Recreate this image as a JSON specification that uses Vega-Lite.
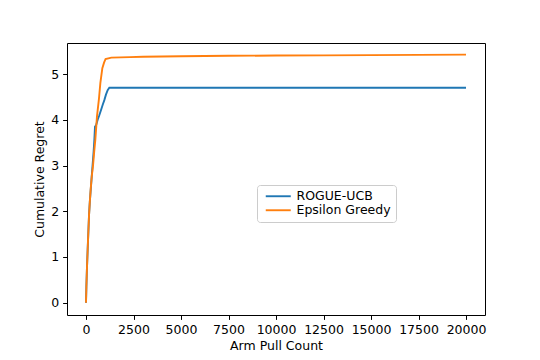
{
  "$schema": "https://vega.github.io/schema/vega-lite/v6.json",
  "width": 418,
  "height": 272,
  "autosize": {"type": "none"},
  "padding": {"left": 67, "top": 43, "right": 55, "bottom": 45},
  "background": "white",
  "config": {
    "font": "DejaVu Sans",
    "view": {"stroke": "black", "strokeWidth": 1},
    "axis": {
      "domain": false,
      "grid": false,
      "tickColor": "black",
      "tickSize": 4.4,
      "tickWidth": 1,
      "labelPadding": 4,
      "labelFont": "DejaVu Sans",
      "labelFontSize": 12.5,
      "labelColor": "black",
      "titleFont": "DejaVu Sans",
      "titleFontSize": 12.5,
      "titleFontWeight": "normal",
      "titleColor": "black"
    }
  },
  "data": {
    "values": [
      {"pulls": 0, "regret": 0, "algo": "ROGUE-UCB"},
      {"pulls": 20, "regret": 0.35, "algo": "ROGUE-UCB"},
      {"pulls": 50, "regret": 0.75, "algo": "ROGUE-UCB"},
      {"pulls": 100, "regret": 1.3, "algo": "ROGUE-UCB"},
      {"pulls": 160, "regret": 1.92, "algo": "ROGUE-UCB"},
      {"pulls": 200, "regret": 2.2, "algo": "ROGUE-UCB"},
      {"pulls": 300, "regret": 2.75, "algo": "ROGUE-UCB"},
      {"pulls": 400, "regret": 3.3, "algo": "ROGUE-UCB"},
      {"pulls": 440, "regret": 3.56, "algo": "ROGUE-UCB"},
      {"pulls": 474, "regret": 3.85, "algo": "ROGUE-UCB"},
      {"pulls": 530, "regret": 3.88, "algo": "ROGUE-UCB"},
      {"pulls": 614, "regret": 4.0, "algo": "ROGUE-UCB"},
      {"pulls": 700, "regret": 4.1, "algo": "ROGUE-UCB"},
      {"pulls": 787, "regret": 4.21, "algo": "ROGUE-UCB"},
      {"pulls": 880, "regret": 4.33, "algo": "ROGUE-UCB"},
      {"pulls": 965, "regret": 4.43, "algo": "ROGUE-UCB"},
      {"pulls": 1050, "regret": 4.55, "algo": "ROGUE-UCB"},
      {"pulls": 1140, "regret": 4.65, "algo": "ROGUE-UCB"},
      {"pulls": 1228, "regret": 4.7, "algo": "ROGUE-UCB"},
      {"pulls": 20000, "regret": 4.7, "algo": "ROGUE-UCB"},
      {"pulls": 0, "regret": 0, "algo": "Epsilon Greedy"},
      {"pulls": 20, "regret": 0.35, "algo": "Epsilon Greedy"},
      {"pulls": 50, "regret": 0.75, "algo": "Epsilon Greedy"},
      {"pulls": 100, "regret": 1.3, "algo": "Epsilon Greedy"},
      {"pulls": 160, "regret": 1.92, "algo": "Epsilon Greedy"},
      {"pulls": 200, "regret": 2.2, "algo": "Epsilon Greedy"},
      {"pulls": 250, "regret": 2.5, "algo": "Epsilon Greedy"},
      {"pulls": 300, "regret": 2.75, "algo": "Epsilon Greedy"},
      {"pulls": 370, "regret": 3.0, "algo": "Epsilon Greedy"},
      {"pulls": 430, "regret": 3.3, "algo": "Epsilon Greedy"},
      {"pulls": 490, "regret": 3.56, "algo": "Epsilon Greedy"},
      {"pulls": 577, "regret": 4.07, "algo": "Epsilon Greedy"},
      {"pulls": 680, "regret": 4.45, "algo": "Epsilon Greedy"},
      {"pulls": 755, "regret": 4.8, "algo": "Epsilon Greedy"},
      {"pulls": 860, "regret": 5.13, "algo": "Epsilon Greedy"},
      {"pulls": 950, "regret": 5.25, "algo": "Epsilon Greedy"},
      {"pulls": 1030, "regret": 5.33, "algo": "Epsilon Greedy"},
      {"pulls": 1330, "regret": 5.36, "algo": "Epsilon Greedy"},
      {"pulls": 2300, "regret": 5.37, "algo": "Epsilon Greedy"},
      {"pulls": 3000, "regret": 5.38, "algo": "Epsilon Greedy"},
      {"pulls": 5000, "regret": 5.39, "algo": "Epsilon Greedy"},
      {"pulls": 7500, "regret": 5.4, "algo": "Epsilon Greedy"},
      {"pulls": 10000, "regret": 5.405, "algo": "Epsilon Greedy"},
      {"pulls": 12500, "regret": 5.41, "algo": "Epsilon Greedy"},
      {"pulls": 15000, "regret": 5.415, "algo": "Epsilon Greedy"},
      {"pulls": 17500, "regret": 5.42, "algo": "Epsilon Greedy"},
      {"pulls": 20000, "regret": 5.425, "algo": "Epsilon Greedy"}
    ]
  },
  "mark": {"type": "line", "strokeWidth": 1.9, "clip": true},
  "encoding": {
    "x": {
      "field": "pulls",
      "type": "quantitative",
      "title": "Arm Pull Count",
      "scale": {"domain": [-1000, 21000], "nice": false, "zero": false},
      "axis": {"values": [0, 2500, 5000, 7500, 10000, 12500, 15000, 17500, 20000], "format": "d", "titlePadding": 4}
    },
    "y": {
      "field": "regret",
      "type": "quantitative",
      "title": "Cumulative Regret",
      "scale": {"domain": [-0.27, 5.68], "nice": false, "zero": false},
      "axis": {"values": [0, 1, 2, 3, 4, 5], "format": "d", "titlePadding": 4}
    },
    "color": {
      "field": "algo",
      "type": "nominal",
      "scale": {"domain": ["ROGUE-UCB", "Epsilon Greedy"], "range": ["#1f77b4", "#ff7f0e"]},
      "legend": {
        "title": null,
        "orient": "none",
        "legendX": 190,
        "legendY": 142,
        "symbolType": "M-0.5,0H4.5",
        "symbolSize": 100,
        "symbolStrokeWidth": 1.9,
        "labelFont": "DejaVu Sans",
        "labelFontSize": 12.5,
        "labelColor": "black",
        "labelOffset": 22,
        "rowPadding": 1,
        "padding": 5,
        "fillColor": "white",
        "strokeColor": "#cccccc",
        "cornerRadius": 3
      }
    }
  }
}
